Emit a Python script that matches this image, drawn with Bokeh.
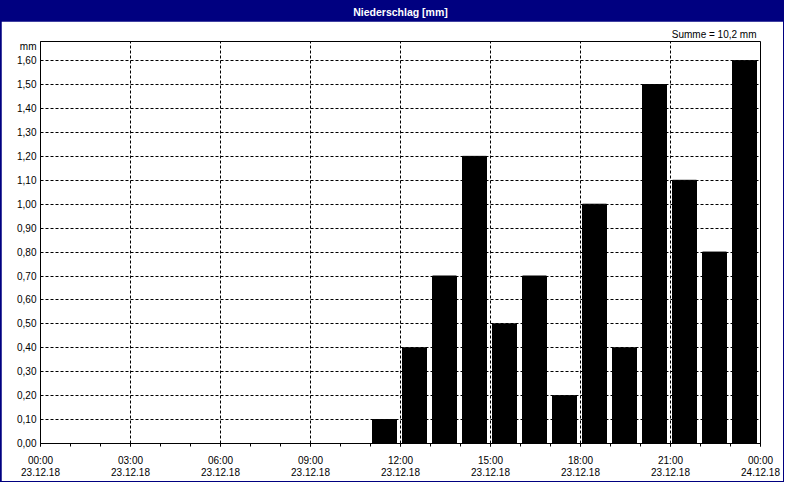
from bokeh.plotting import figure
from bokeh.layouts import column
from bokeh.models import (ColumnDataSource, FixedTicker, Range1d,
                          CustomJSTickFormatter)
from bokeh.core.properties import value
from bokeh.embed import file_html
from bokeh.resources import INLINE

# ---- data ----
title_text = "Niederschlag [mm]"
unit_label = "mm"
hours = [11, 12, 13, 14, 15, 16, 17, 18, 19, 20, 21, 22, 23]   # start hour of each interval
rain = [0.1, 0.4, 0.7, 1.2, 0.5, 0.7, 0.2, 1.0, 0.4, 1.5, 1.1, 0.8, 1.6]
x_ticks = [0, 3, 6, 9, 12, 15, 18, 21, 24]
x_tick_labels = ["00:00\n23.12.18", "03:00\n23.12.18", "06:00\n23.12.18",
                 "09:00\n23.12.18", "12:00\n23.12.18", "15:00\n23.12.18",
                 "18:00\n23.12.18", "21:00\n23.12.18", "00:00\n24.12.18"]
y_ticks = [round(i * 0.1, 2) for i in range(17)]
unit_tick = 1.66

FONT = "Liberation Sans"
NAVY = "#000080"
W = 782

# ---- title bar (transparent; navy comes from the container) ----
tb = figure(width=W, height=20, x_range=Range1d(0, 1), y_range=Range1d(0, 1),
            output_backend="svg", toolbar_location=None, min_border=0)
tb.axis.visible = False
tb.grid.visible = False
tb.outline_line_color = None
tb.background_fill_color = None
tb.border_fill_color = None
tb.text(x=[0.5], y=[0.5], text=[title_text], text_color="white",
        text_font=value(FONT), text_font_size="10.5px", text_font_style="bold",
        text_align="center", text_baseline="middle")

# ---- main chart ----
src = ColumnDataSource(dict(x=[h + 0.467 for h in hours], top=rain))
total = sum(rain)
sum_text = "Summe = " + f"{total:.1f}".replace(".", ",") + " mm"

p = figure(width=W, height=460, x_range=Range1d(0, 24), y_range=Range1d(0, 1.68),
           output_backend="svg", toolbar_location=None, title=sum_text,
           min_border_left=39, min_border_right=23, min_border_top=20,
           min_border_bottom=36)
p.title.align = "right"
p.title.text_font = FONT
p.title.text_font_size = "10px"
p.title.text_font_style = "normal"
p.title.text_color = "black"
p.title.offset = 4
p.title.standoff = 4
p.background_fill_color = "white"
p.border_fill_color = "white"
p.outline_line_color = "black"
p.outline_line_width = 1

p.vbar(x="x", top="top", bottom=0, width=0.8, source=src,
       fill_color="black", line_color="black")

# x axis
xa = p.xaxis[0]
xa.ticker = FixedTicker(ticks=x_ticks, minor_ticks=list(range(0, 25)))
xa.major_label_overrides = {t: l for t, l in zip(x_ticks, x_tick_labels)}
xa.major_label_text_font = FONT
xa.major_label_text_font_size = "10px"
xa.major_label_text_color = "black"
xa.major_label_text_line_height = 1.17
xa.major_label_standoff = 8
xa.major_tick_in = 0
xa.major_tick_out = 3
xa.minor_tick_in = 0
xa.minor_tick_out = 3
xa.axis_line_color = "black"
xa.major_tick_line_color = "black"
xa.minor_tick_line_color = "black"

# y axis
ya = p.yaxis[0]
ya.ticker = FixedTicker(ticks=y_ticks + [unit_tick])
ya.formatter = CustomJSTickFormatter(
    args=dict(unit=unit_label, ut=unit_tick),
    code="if (Math.abs(tick - ut) < 1e-6) { return unit; } return tick.toFixed(2).replace('.', ',');")
ya.major_label_text_font = FONT
ya.major_label_text_font_size = "10px"
ya.major_label_text_color = "black"
ya.major_label_standoff = 4
ya.major_tick_in = 0
ya.major_tick_out = 0
ya.minor_tick_line_color = None
ya.axis_line_color = "black"

# grids
p.xgrid.ticker = FixedTicker(ticks=x_ticks)
p.ygrid.ticker = FixedTicker(ticks=y_ticks)
for g in (p.xgrid[0], p.ygrid[0]):
    g.grid_line_color = "black"
    g.grid_line_dash = "3 2"
    g.grid_line_width = 1

layout = column(tb, p, spacing=0,
                styles={"border": "1px solid " + NAVY, "background": NAVY})

open("out.html", "w").write(file_html(layout, INLINE))
